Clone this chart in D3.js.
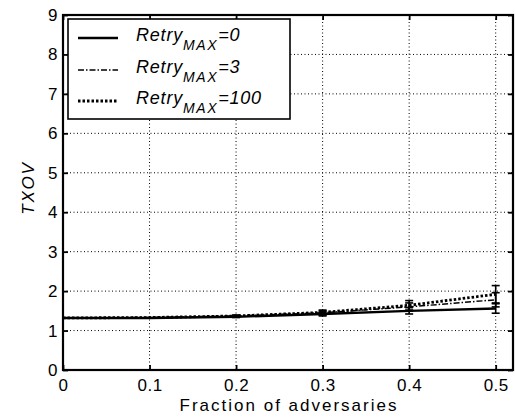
<!DOCTYPE html>
<html>
<head>
<meta charset="utf-8">
<script src="https://cdn.jsdelivr.net/npm/d3@7"></script>
<style>
  html, body { margin: 0; padding: 0; background: #fff; }
  svg { display: block; }
  text { font-family: "Liberation Sans", Arial, sans-serif; fill: #000; }
</style>
</head>
<body>
<svg id="chart" width="516" height="418"></svg>
<script>
// Fraction of adversaries on the x axis
const fractions = [0, 0.1, 0.2, 0.3, 0.4, 0.5];

// TXOV for each retry limit
const retry0   = [1.32, 1.32, 1.35, 1.42, 1.50, 1.56];
const retry3   = [1.32, 1.33, 1.37, 1.45, 1.60, 1.78];
const retry100 = [1.32, 1.33, 1.37, 1.46, 1.64, 1.92];

// Half-width of the spread drawn around each point
const spread0   = [0, 0, 0.02, 0.05, 0.08, 0.12];
const spread3   = [0, 0, 0.02, 0.05, 0.10, 0.18];
const spread100 = [0, 0, 0.02, 0.06, 0.12, 0.22];

const xTicks = [0, 0.1, 0.2, 0.3, 0.4, 0.5];
const xTickLabels = ["0", "0.1", "0.2", "0.3", "0.4", "0.5"];
const yTicks = [0, 1, 2, 3, 4, 5, 6, 7, 8, 9];

const seriesNames = ["0", "3", "100"];

const svg = d3.select("#chart");
const m = { left: 63, right: 513, top: 15, bottom: 370 };

const x = d3.scaleLinear().domain([0, 0.52]).range([m.left, m.right]);
const y = d3.scaleLinear().domain([0, 9]).range([m.bottom, m.top]);

// Grid (dotted)
const grid = svg.append("g").attr("stroke", "#000").attr("stroke-width", 1)
  .attr("stroke-dasharray", "1,2.5");
grid.selectAll("line.gx").data(xTicks.slice(1)).join("line")
  .attr("x1", d => x(d)).attr("x2", d => x(d))
  .attr("y1", m.top).attr("y2", m.bottom);
grid.selectAll("line.gy").data(yTicks.slice(1, -1)).join("line")
  .attr("x1", m.left).attr("x2", m.right)
  .attr("y1", d => y(d)).attr("y2", d => y(d));

// Series
const series = [
  { vals: retry0,   spread: spread0,   width: 2.4, dash: null },
  { vals: retry3,   spread: spread3,   width: 1.5, dash: "6,2,1.5,2" },
  { vals: retry100, spread: spread100, width: 2.8, dash: "2.5,2" }
];
const line = d3.line().x((d, i) => x(fractions[i])).y(d => y(d));
const plot = svg.append("g");
series.forEach(s => {
  plot.append("path").datum(s.vals)
    .attr("fill", "none").attr("stroke", "#000")
    .attr("stroke-width", s.width)
    .attr("stroke-dasharray", s.dash)
    .attr("d", line);
  const eb = plot.append("g").attr("stroke", "#000").attr("stroke-width", 1.6);
  s.vals.forEach((v, i) => {
    const e = s.spread[i];
    if (!e) return;
    const cx = x(fractions[i]);
    eb.append("line").attr("x1", cx).attr("x2", cx).attr("y1", y(v - e)).attr("y2", y(v + e));
    eb.append("line").attr("x1", cx - 4).attr("x2", cx + 4).attr("y1", y(v - e)).attr("y2", y(v - e));
    eb.append("line").attr("x1", cx - 4).attr("x2", cx + 4).attr("y1", y(v + e)).attr("y2", y(v + e));
  });
});

// Axes with inward ticks on all four sides
const axB = d3.axisBottom(x).tickValues(xTicks).tickFormat((d, i) => xTickLabels[i])
  .tickSizeInner(-5).tickSizeOuter(0).tickPadding(9);
const axT = d3.axisTop(x).tickValues(xTicks).tickFormat("").tickSizeInner(-5).tickSizeOuter(0);
const axL = d3.axisLeft(y).tickValues(yTicks).tickFormat(d3.format("d"))
  .tickSizeInner(-5).tickSizeOuter(0).tickPadding(5);
const axR = d3.axisRight(y).tickValues(yTicks).tickFormat("").tickSizeInner(-5).tickSizeOuter(0);

function style(g) {
  g.select(".domain").remove();
  g.selectAll(".tick line").attr("stroke", "#000").attr("stroke-width", 1.8);
  g.selectAll("text").attr("font-size", 17).attr("fill", "#000")
    .attr("letter-spacing", 0.5)
    .style("font-family", "'Liberation Sans', Arial, sans-serif");
}
svg.append("g").attr("transform", `translate(0,${m.bottom})`).call(axB).call(style);
svg.append("g").attr("transform", `translate(0,${m.top})`).call(axT).call(style);
svg.append("g").attr("transform", `translate(${m.left},0)`).call(axL).call(style);
svg.append("g").attr("transform", `translate(${m.right},0)`).call(axR).call(style);

// Frame
svg.append("rect").attr("x", m.left).attr("y", m.top)
  .attr("width", m.right - m.left).attr("height", m.bottom - m.top)
  .attr("fill", "none").attr("stroke", "#000").attr("stroke-width", 2.2);

// Axis titles
svg.append("text").attr("x", 289).attr("y", 411)
  .attr("text-anchor", "middle").attr("font-size", 17).attr("letter-spacing", 2)
  .text("Fraction of adversaries");
svg.append("text")
  .attr("transform", "translate(34,188) rotate(-90)")
  .attr("text-anchor", "middle").attr("font-size", 17).attr("font-style", "italic")
  .attr("letter-spacing", 1.8)
  .text("TXOV");

// Legend
const lg = svg.append("g");
lg.append("rect").attr("x", 68).attr("y", 19).attr("width", 222).attr("height", 100)
  .attr("fill", "#fff").attr("stroke", "#000").attr("stroke-width", 1.6);
const rowY = [38, 70, 101];
series.forEach((s, i) => {
  lg.append("line").attr("x1", 78).attr("x2", 118)
    .attr("y1", rowY[i]).attr("y2", rowY[i])
    .attr("stroke", "#000").attr("stroke-width", s.width)
    .attr("stroke-dasharray", s.dash);
  const t = lg.append("text").attr("x", 136).attr("y", rowY[i] + 3)
    .attr("font-size", 18).attr("font-style", "italic").attr("letter-spacing", 0.8);
  t.append("tspan").text("Retry");
  t.append("tspan").attr("dy", 9).attr("font-size", 14).attr("letter-spacing", 1.6).text("MAX");
  t.append("tspan").attr("dy", -9).text("=" + seriesNames[i]);
});
</script>
</body>
</html>
